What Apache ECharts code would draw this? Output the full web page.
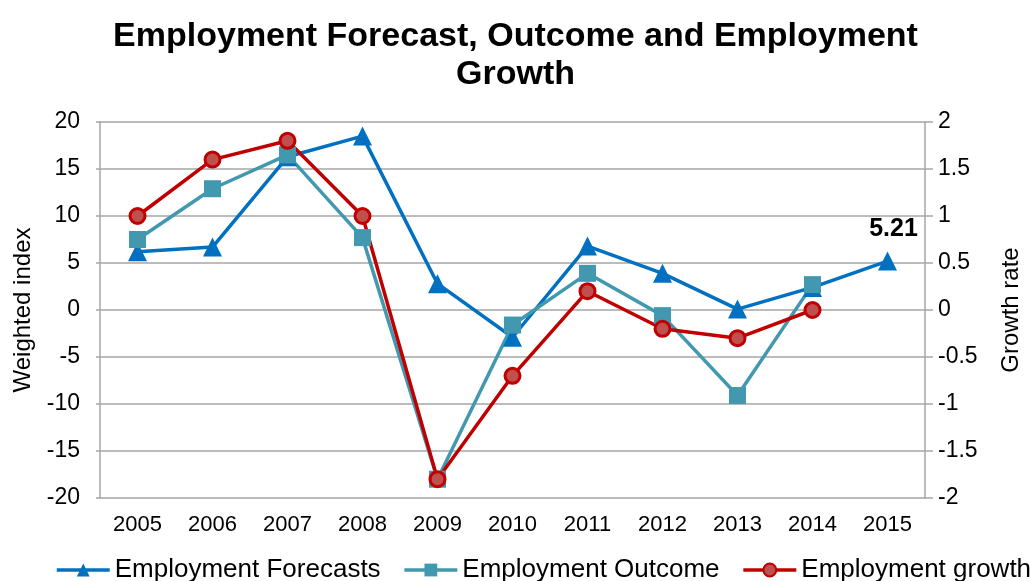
<!DOCTYPE html>
<html>
<head>
<meta charset="utf-8">
<script src="https://cdn.jsdelivr.net/npm/echarts@6/dist/echarts.min.js"></script>
<style>
  html, body { margin: 0; padding: 0; background: #fff; }
  #main { width: 1031px; height: 581px; }
</style>
</head>
<body>
<div id="main"></div>
<script>
// data
var years = ['2005', '2006', '2007', '2008', '2009', '2010', '2011', '2012', '2013', '2014', '2015'];
var forecasts = [6.2, 6.7, 16.3, 18.5, 2.8, -2.9, 6.8, 3.9, 0.1, 2.4, 5.21];
var outcome = [7.5, 12.9, 16.5, 7.7, -18, -1.6, 3.9, -0.6, -9.1, 2.7, null];
var growth = [1.0, 1.6, 1.8, 1.0, -1.8, -0.7, 0.2, -0.2, -0.3, 0.0, null];

var FONT = 'Liberation Sans, Arial, sans-serif';
var gridColor = '#A6A6A6';

var chart = echarts.init(document.getElementById('main'));

//最后一个点的标签
var forecastData = [];
for (var i = 0; i < forecasts.length; i++) {
    if (i == forecasts.length - 1) {
        forecastData.push({
            value: forecasts[i],
            label: {
                show: true, position: 'top', distance: 10, offset: [6, 0],
                formatter: function(p) { return p.value.toFixed(2); },
                fontFamily: FONT, fontSize: 25, fontWeight: 'bold', color: '#000'
            }
        });
    } else {
        forecastData.push(forecasts[i]);
    }
}

var option = {
    animation: false,
    title: {
        text: 'Employment Forecast, Outcome and Employment\nGrowth',
        left: 'center', top: 13,
        textStyle: { fontFamily: FONT, fontSize: 34, fontWeight: 'bold', color: '#000', lineHeight: 38 }
    },
    grid: { left: 100, right: 106, top: 122, bottom: 83 },
    legend: {
        left: 50, top: 552, width: 1400,
        itemWidth: 53, itemHeight: 16, itemGap: 22,
        lineStyle: { width: 3.5 },
        textStyle: { fontFamily: FONT, fontSize: 26, color: '#000' },
        data: ['Employment Forecasts', 'Employment Outcome', 'Employment growth']
    },
    xAxis: {
        type: 'category', data: years, boundaryGap: true,
        axisLine: { show: false },
        axisTick: { show: false },
        axisLabel: { fontFamily: FONT, fontSize: 22, color: '#000', margin: 16 }
    },
    yAxis: [{
        type: 'value', min: -20, max: 20, interval: 5,
        name: 'Weighted index', nameLocation: 'middle', nameGap: 64,
        nameTextStyle: { fontFamily: FONT, fontSize: 24, color: '#000' },
        axisLine: { show: true, lineStyle: { color: gridColor, width: 1.5 } },
        axisTick: { show: true, length: 4, lineStyle: { color: gridColor, width: 1.5 } },
        axisLabel: { fontFamily: FONT, fontSize: 23, color: '#000', margin: 20 },
        splitLine: { lineStyle: { color: gridColor, width: 1.5 } }
    }, {
        type: 'value', min: -2, max: 2, interval: 0.5, position: 'right',
        name: 'Growth rate', nameLocation: 'middle', nameGap: 74,
        nameTextStyle: { fontFamily: FONT, fontSize: 24, color: '#000' },
        axisLine: { show: true, lineStyle: { color: gridColor, width: 1.5 } },
        axisTick: { show: true, length: 8, lineStyle: { color: gridColor, width: 1.5 } },
        axisLabel: { fontFamily: FONT, fontSize: 23, color: '#000', margin: 13 },
        splitLine: { show: false }
    }],
    series: [{
        name: 'Employment Forecasts', type: 'line', yAxisIndex: 0,
        data: forecastData,
        symbol: 'triangle', symbolSize: 19,
        lineStyle: { color: '#0070C0', width: 3.5 },
        itemStyle: { color: '#0070C0' }
    }, {
        name: 'Employment Outcome', type: 'line', yAxisIndex: 0,
        data: outcome,
        symbol: 'rect', symbolSize: 17,
        lineStyle: { color: '#4198AF', width: 3.5 },
        itemStyle: { color: '#4198AF' }
    }, {
        name: 'Employment growth', type: 'line', yAxisIndex: 1,
        data: growth,
        symbol: 'circle', symbolSize: 15,
        lineStyle: { color: '#C00000', width: 3.5 },
        itemStyle: { color: '#C0504D', borderColor: '#C00000', borderWidth: 3 }
    }]
};

chart.setOption(option);
</script>
</body>
</html>
